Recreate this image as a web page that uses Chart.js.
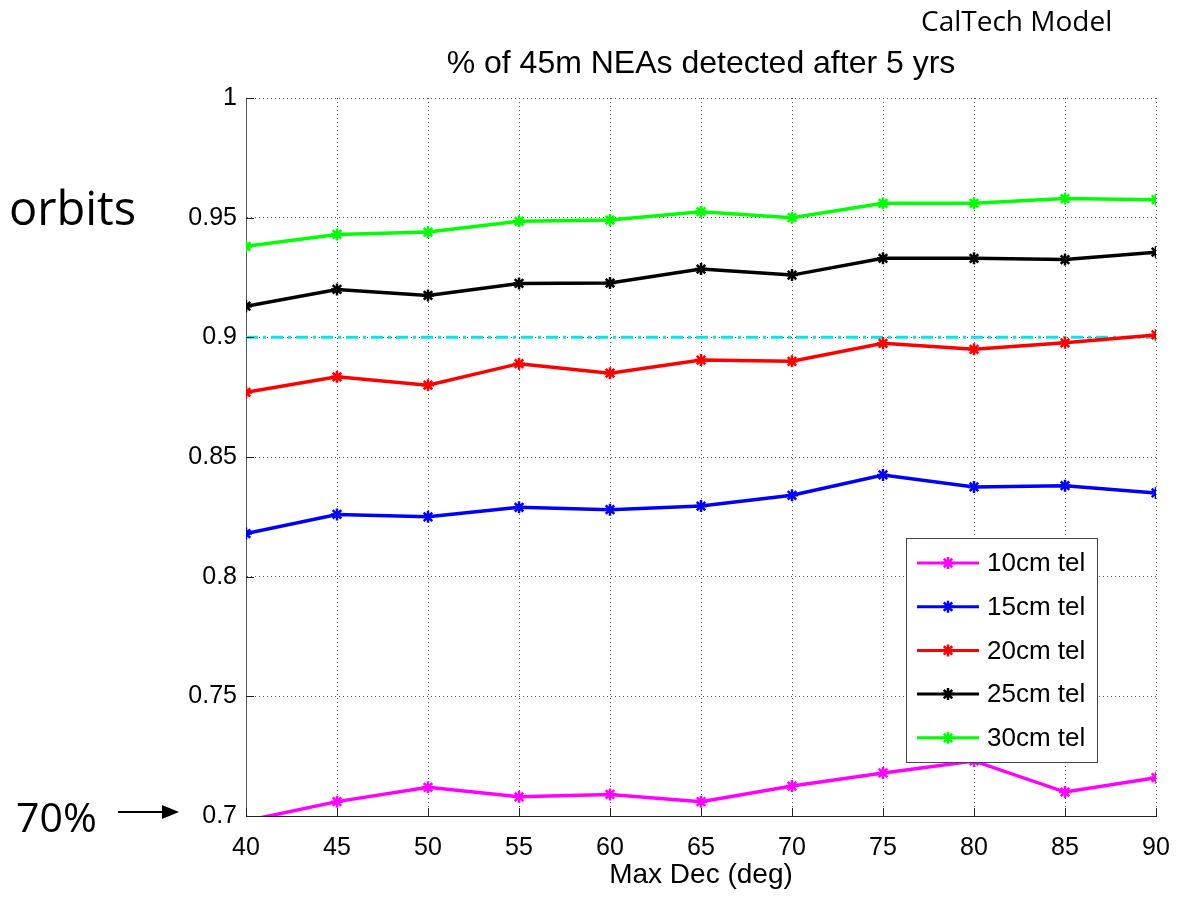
<!DOCTYPE html>
<html>
<head>
  <title>NEAs detected after 5 yrs</title>
  <script src="https://cdn.jsdelivr.net/npm/chart.js@4.4.1/dist/chart.umd.min.js"></script>
  <style>
    body { margin: 0; background: #fff; }
    #wrap { position: relative; width: 1187px; height: 899px; }
  </style>
</head>
<body>
<div id="wrap"><canvas id="myChart"></canvas></div>

<script>
// Max Dec (deg) on the x axis
const maxDec = [40, 45, 50, 55, 60, 65, 70, 75, 80, 85, 90];

// fraction of 45m NEAs detected, one list per telescope size
const tel10 = [0.698, 0.706, 0.712, 0.708, 0.709, 0.706, 0.7125, 0.718, 0.723, 0.710, 0.716];
const tel15 = [0.818, 0.826, 0.825, 0.829, 0.828, 0.8295, 0.834, 0.8425, 0.8375, 0.838, 0.835];
const tel20 = [0.877, 0.8835, 0.880, 0.889, 0.885, 0.8905, 0.890, 0.8975, 0.895, 0.8977, 0.901];
const tel25 = [0.913, 0.920, 0.9175, 0.9225, 0.9227, 0.9285, 0.926, 0.933, 0.933, 0.9325, 0.9356];
const tel30 = [0.938, 0.943, 0.944, 0.9485, 0.949, 0.9525, 0.950, 0.956, 0.956, 0.958, 0.9575];
const goal = 0.9;

const seriesNames = ['10cm tel', '15cm tel', '20cm tel', '25cm tel', '30cm tel'];
const seriesColors = ['#ff00ff', '#0000ff', '#ff0000', '#000000', '#00ff00'];
const seriesValues = [tel10, tel15, tel20, tel25, tel30];

const FONT = '"Liberation Sans", Arial, Helvetica, sans-serif';
const SLIDE_FONT = '"Open Sans", "Noto Sans", sans-serif';

function toPoints(vals) {
  return maxDec.map((x, i) => ({ x: x, y: vals[i] }));
}

const datasets = seriesValues.map((vals, i) => ({
  label: seriesNames[i],
  data: toPoints(vals),
  borderColor: seriesColors[i],
  backgroundColor: seriesColors[i],
  borderWidth: 3.5,
  pointStyle: 'star',
  pointRadius: 6,
  pointBorderWidth: 2.5,
  pointHoverRadius: 6,
  tension: 0,
  clip: 0
}));

datasets.push({
  label: 'goal',
  data: toPoints(maxDec.map(() => goal)),
  borderColor: '#00e8ee',
  borderWidth: 3,
  borderDash: [12, 5, 3, 5],
  pointRadius: 0,
  tension: 0
});

// text, tick marks and legend drawn on top, MATLAB style
const extras = {
  id: 'extras',
  afterDraw(chart) {
    const ctx = chart.ctx;
    const area = chart.chartArea;
    const xs = chart.scales.x;
    const ys = chart.scales.y;
    ctx.save();

    // inward tick marks
    ctx.strokeStyle = '#222';
    ctx.lineWidth = 1;
    ctx.beginPath();
    ys.ticks.forEach(t => {
      const y = Math.round(ys.getPixelForValue(t.value)) + 0.5;
      ctx.moveTo(area.left, y);
      ctx.lineTo(area.left + 8, y);
    });
    xs.ticks.forEach(t => {
      const x = Math.round(xs.getPixelForValue(t.value)) + 0.5;
      ctx.moveTo(x, area.bottom);
      ctx.lineTo(x, area.bottom - 8);
    });
    ctx.stroke();

    // title
    ctx.fillStyle = '#000';
    ctx.textAlign = 'center';
    ctx.textBaseline = 'alphabetic';
    ctx.font = '32px ' + FONT;
    ctx.fillText('% of 45m NEAs detected after 5 yrs', (area.left + area.right) / 2, 73);

    // x axis title
    ctx.font = '28px ' + FONT;
    ctx.fillText('Max Dec (deg)', (area.left + area.right) / 2, 883);

    // slide annotations
    ctx.font = '28px ' + SLIDE_FONT;
    ctx.textAlign = 'left';
    ctx.fillText('CalTech Model', 921, 31);
    ctx.font = '47px ' + SLIDE_FONT;
    ctx.fillText('orbits', 9, 225);
    ctx.font = '41px ' + SLIDE_FONT;
    ctx.fillText('70%', 16, 832);

    // arrow pointing at 0.7
    const ay = ys.getPixelForValue(0.7) - 4;
    ctx.strokeStyle = '#000';
    ctx.lineWidth = 2;
    ctx.beginPath();
    ctx.moveTo(118, ay);
    ctx.lineTo(165, ay);
    ctx.stroke();
    ctx.beginPath();
    ctx.moveTo(179, ay);
    ctx.lineTo(162, ay - 7);
    ctx.lineTo(162, ay + 7);
    ctx.closePath();
    ctx.fill();

    // legend box
    const lx = 906, ly = 538, lw = 191, lh = 224;
    ctx.fillStyle = '#fff';
    ctx.fillRect(lx, ly, lw, lh);
    ctx.strokeStyle = '#444';
    ctx.lineWidth = 1;
    ctx.strokeRect(lx + 0.5, ly + 0.5, lw, lh);
    ctx.font = '26px ' + FONT;
    ctx.textBaseline = 'middle';
    seriesNames.forEach((name, i) => {
      const y = 563 + i * 43.7;
      ctx.strokeStyle = seriesColors[i];
      ctx.lineWidth = 3;
      ctx.beginPath();
      ctx.moveTo(917, y);
      ctx.lineTo(979, y);
      ctx.stroke();
      ctx.lineWidth = 2.5;
      Chart.helpers.drawPoint(ctx, { pointStyle: 'star', radius: 6, borderWidth: 2.5, rotation: 0 }, 948, y);
      ctx.fillStyle = '#000';
      ctx.fillText(name, 987, y + 1);
    });
    ctx.restore();
  }
};

new Chart('myChart', {
  type: 'line',
  data: { datasets: datasets },
  options: {
    responsive: true,
    maintainAspectRatio: false,
    animation: false,
    layout: { padding: { top: 98, right: 31, left: 0, bottom: 0 } },
    plugins: {
      legend: { display: false },
      tooltip: { enabled: false },
      title: { display: false }
    },
    scales: {
      x: {
        type: 'linear',
        min: 40,
        max: 90,
        afterFit: s => { s.height = 83; },
        ticks: { stepSize: 5, color: '#000', font: { family: FONT, size: 25 }, padding: 17, maxRotation: 0 },
        grid: { color: '#555', drawTicks: false },
        border: { color: '#222', width: 1, dash: [1, 3] }
      },
      y: {
        min: 0.7,
        max: 1,
        afterFit: s => { s.width = 246; },
        ticks: {
          stepSize: 0.05,
          color: '#000',
          font: { family: FONT, size: 25 },
          padding: 9,
          callback: v => String(+v.toFixed(2))
        },
        grid: { color: '#555', drawTicks: false },
        border: { color: '#555', width: 1, dash: [1, 3] }
      }
    }
  },
  plugins: [extras]
});
</script>
</body>
</html>
